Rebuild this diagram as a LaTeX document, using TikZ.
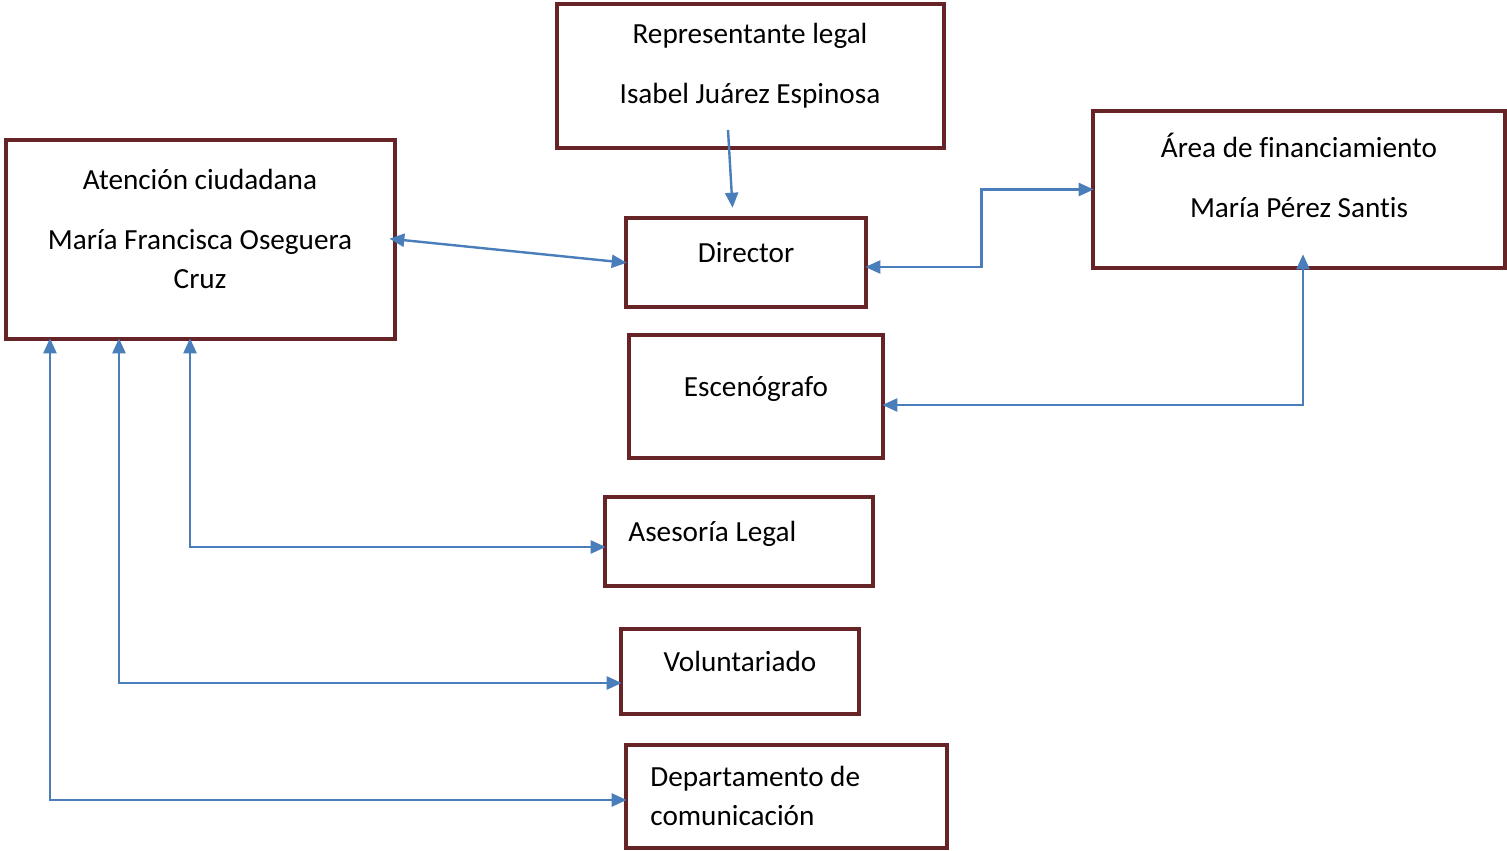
\documentclass[tikz,border=0pt]{standalone}
\usepackage{fontspec}
\setmainfont{Carlito}[Ligatures=CommonOff, RawFeature={-liga;-clig;-calt}]
\usepackage{tikz}
\usetikzlibrary{positioning,arrows.meta,calc}
\definecolor{borde}{HTML}{662426}
\definecolor{linea}{HTML}{4A7EBB}
\tikzset{
  caja/.style={draw=borde, line width=2.3pt, rectangle, inner sep=0pt},
  txt/.style={font=\fontsize{14.6pt}{19.5pt}\selectfont, inner sep=0pt, align=center},
  flecha/.style={draw=linea, line width=1.2pt, -{Triangle[length=7.5pt,width=6.5pt]}},
  dobleflecha/.style={draw=linea, line width=1.2pt, shorten <=-1.5pt, shorten >=-1.5pt,
    {Triangle[length=7.5pt,width=6.5pt]}-{Triangle[length=7.5pt,width=6.5pt]}},
}
\begin{document}
\begin{tikzpicture}[x=0.5pt, y=-0.5pt]
  \useasboundingbox (0,0) rectangle (1507,850);
  % cajas
  \node[caja, minimum width=193.5pt, minimum height=72pt] (rep) at (750.5,76) {};
  \node[caja, minimum width=194.5pt, minimum height=99.5pt] (aten) at (200.5,239.5) {};
  \node[caja, minimum width=120pt, minimum height=44.5pt] (dir) at (746,262.5) {};
  \node[caja, minimum width=206pt, minimum height=78.5pt] (area) at (1299,189.5) {};
  \node[caja, minimum width=127pt, minimum height=61.5pt] (esc) at (756,396.5) {};
  \node[caja, minimum width=134pt, minimum height=44.5pt] (ases) at (739,541.5) {};
  \node[caja, minimum width=119pt, minimum height=42.5pt] (vol) at (740,671.5) {};
  \node[caja, minimum width=160.5pt, minimum height=51.5pt] (dep) at (786.5,796.5) {};
  % textos (anclados en la linea base de la ultima linea)
  \node[txt, anchor=base] (rep-t) at (750,104) {Representante legal\\[10.5pt]Isabel Juárez Espinosa};
  \node[txt, anchor=base] (aten-t) at (200,288) {Atención ciudadana\\[10.5pt]María Francisca Oseguera\\Cruz};
  \node[txt, anchor=base] (dir-t) at (746,262) {Director};
  \node[txt, anchor=base] (area-t) at (1299,218) {Área de financiamiento\\[10.5pt]María Pérez Santis};
  \node[txt, anchor=base] (esc-t) at (756,396) {Escenógrafo};
  \node[txt, anchor=base west] (ases-t) at (628,541) {Asesoría Legal};
  \node[txt, anchor=base] (vol-t) at (740,671) {Voluntariado};
  \node[txt, anchor=base west, align=left] (dep-t) at (650,825) {Departamento de\\comunicación};
  % conectores
  \coordinate (rep-in) at (728,130);
  \draw[flecha, shorten >=4pt] (rep-in) -- ([xshift=-6.5pt]dir.north);
  \draw[dobleflecha, shorten <=-4pt] (aten.east) -- (dir.west);
  \draw[dobleflecha] ([yshift=-2.25pt]dir.east) -- ++(113,0) |- (area.west);
  \draw[dobleflecha, shorten >=-8pt] ([yshift=-4.25pt]esc.east) -| ([xshift=2pt]area.south);
  \draw[dobleflecha] ([xshift=-5.25pt]aten.south) |- ([yshift=-2.75pt]ases.west);
  \draw[dobleflecha] ([xshift=-40.75pt]aten.south) |- ([yshift=-5.75pt]vol.west);
  \draw[dobleflecha] ([xshift=-75.25pt]aten.south) |- ([yshift=-1.75pt]dep.west);
\end{tikzpicture}
\end{document}
